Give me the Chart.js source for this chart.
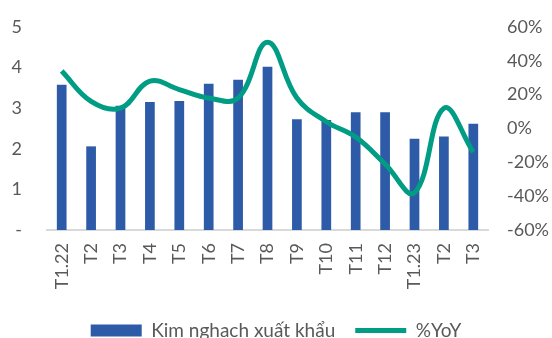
<!DOCTYPE html>
<html>
<head>
<meta charset="utf-8">
<script src="https://cdn.jsdelivr.net/npm/chart.js@4/dist/chart.umd.min.js"></script>
<style>
  html, body { margin: 0; padding: 0; background: #fff; overflow: hidden; }
  .wrap { width: 552px; height: 350px; }
</style>
</head>
<body>
<div class="wrap"><canvas class="js-chart" width="552" height="350"></canvas></div>
<script>
const elChart = document.querySelector(".js-chart");

// data
const months = ["T1.22","T2","T3","T4","T5","T6","T7","T8","T9","T10","T11","T12","T1.23","T2","T3"];
const exportValues = [3.58, 2.06, 3.06, 3.15, 3.18, 3.6, 3.7, 4.02, 2.73, 2.71, 2.9, 2.9, 2.25, 2.3, 2.62];
const yoyValues = [34, 16, 12, 28, 23, 18, 18, 51, 18, 4, -5, -21, -38, 12, -14];
const leftTicks = [0, 1, 2, 3, 4, 5];
const rightTicks = [-60, -40, -20, 0, 20, 40, 60];

const textColor = "#595959";
const tickFont = { family: "Lato", size: 18 };

new Chart(elChart, {
  data: {
    labels: months,
    datasets: [
      {
        type: "bar",
        label: "Kim nghach xuất khẩu",
        data: exportValues,
        backgroundColor: "#2D5BA7",
        barPercentage: 0.33,
        categoryPercentage: 1,
        yAxisID: "y",
        order: 1,
        pointStyle: "rect"
      },
      {
        type: "line",
        label: "%YoY",
        data: yoyValues,
        borderColor: "#009C84",
        backgroundColor: "#009C84",
        borderWidth: 5,
        tension: 0.4,
        pointRadius: 0,
        yAxisID: "y1",
        order: 0,
        pointStyle: "line"
      }
    ]
  },
  options: {
    responsive: false,
    animation: false,
    layout: { padding: { top: 27, left: 0, right: 0, bottom: 0 } },
    plugins: {
      tooltip: { enabled: false },
      legend: {
        position: "bottom",
        reverse: true,
        labels: {
          usePointStyle: true,
          pointStyleWidth: 51,
          boxHeight: 12,
          color: textColor,
          font: { family: "Lato", size: 19 },
          padding: 20
        }
      }
    },
    scales: {
      x: {
        afterFit: (scale) => { scale.height = 71; },
        grid: { display: false, drawTicks: false },
        border: { display: true, color: "#D9D9D9", width: 2 },
        ticks: { color: textColor, font: tickFont, minRotation: 90, maxRotation: 90, padding: 13, autoSkip: false }
      },
      y: {
        position: "left",
        min: 0,
        max: 5,
        afterFit: (scale) => { scale.width = 47; scale.paddingTop = 0; },
        afterBuildTicks: (scale) => { scale.ticks = leftTicks.map(v => ({ value: v })); },
        grid: { display: false, drawTicks: false },
        border: { display: false },
        ticks: {
          color: textColor,
          font: tickFont,
          padding: 25,
          callback: (v) => v === 0 ? "-" : v
        }
      },
      y1: {
        position: "right",
        min: -60,
        max: 60,
        afterFit: (scale) => { scale.width = 64; scale.paddingTop = 0; },
        afterBuildTicks: (scale) => { scale.ticks = rightTicks.map(v => ({ value: v })); },
        grid: { display: false, drawTicks: false },
        border: { display: false },
        ticks: {
          color: textColor,
          font: tickFont,
          padding: 19,
          callback: (v) => v + "%"
        }
      }
    }
  }
});
</script>
</body>
</html>
